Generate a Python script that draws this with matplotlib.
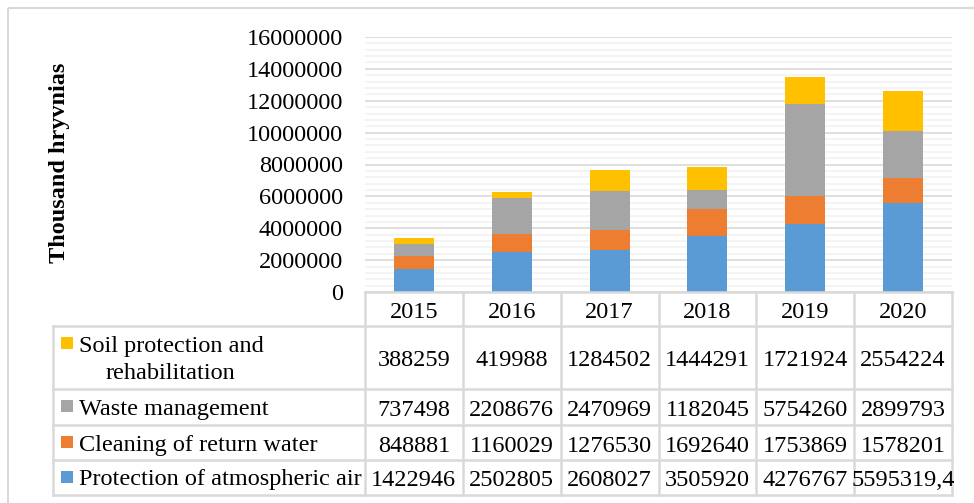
import matplotlib
matplotlib.use("Agg")
import matplotlib.pyplot as plt
from matplotlib.patches import Rectangle
from matplotlib.ticker import MultipleLocator, FuncFormatter

plt.rcParams['font.family'] = ['Liberation Serif', 'DejaVu Serif']

# datos
years = ['2015', '2016', '2017', '2018', '2019', '2020']
air = [1422946, 2502805, 2608027, 3505920, 4276767, 5595319.4]
water = [848881, 1160029, 1276530, 1692640, 1753869, 1578201]
waste = [737498, 2208676, 2470969, 1182045, 5754260, 2899793]
soil = [388259, 419988, 1284502, 1444291, 1721924, 2554224]

series = [
    ('Protection of atmospheric air', air, '#5B9BD5'),
    ('Cleaning of return water', water, '#ED7D31'),
    ('Waste management', waste, '#A5A5A5'),
    ('Soil protection and\nrehabilitation', soil, '#FFC000'),
]

FS = 17.5
W, H = 974, 503
fig = plt.figure(figsize=(W / 100, H / 100), dpi=100)

# area de la grafica en pixeles
x0, x1 = 365, 952
y_top, y_axis = 37, 292
ax = fig.add_axes([x0 / W, 1 - y_axis / H, (x1 - x0) / W, (y_axis - y_top) / H])

bottom = [0] * len(years)
for nombre, vals, color in series:
    ax.bar(range(len(years)), vals, bottom=bottom, color=color, width=0.41, zorder=3)
    bottom = [b + v for b, v in zip(bottom, vals)]

ax.set_xlim(-0.5, len(years) - 0.5)
ax.set_ylim(0, 16000000)
ax.yaxis.set_major_locator(MultipleLocator(2000000))
ax.yaxis.set_minor_locator(MultipleLocator(400000))
ax.yaxis.set_major_formatter(FuncFormatter(lambda v, p: '%d' % v))
ax.grid(axis='y', which='major', color='#D9D9D9', linewidth=1.2, zorder=0)
ax.grid(axis='y', which='minor', color='#F2F2F2', linewidth=1.2, zorder=0)
ax.set_xticks([])
ax.tick_params(axis='y', which='both', length=0, pad=16, labelsize=FS)
for s in ['top', 'right', 'left', 'bottom']:
    ax.spines[s].set_visible(False)
ax.set_axisbelow(True)

fig.text(60 / W, 1 - 163 / H, 'Thousand hryvnias', rotation=90, fontsize=FS,
         fontweight='bold', ha='center', va='center')

# tabla de datos debajo
tab = fig.add_axes([0, 0, 1, 1])
tab.set_xlim(0, W)
tab.set_ylim(H, 0)
tab.axis('off')
tab.patch.set_alpha(0)

# marco exterior
tab.add_patch(Rectangle((8, 8), 1100, 1100, fill=False, edgecolor='#D9D9D9', linewidth=1.5))

linea = dict(color='#D9D9D9', linewidth=1.8)
colw = (x1 - x0) / len(years)
t_left = 53
row_y = [326, 389, 425, 460, 495]   # limites de filas (debajo del encabezado)

# lineas horizontales
tab.plot([x0, x1], [y_axis, y_axis], **linea)
for y in row_y:
    tab.plot([t_left, x1], [y, y], **linea)
# lineas verticales
tab.plot([t_left, t_left], [row_y[0], row_y[-1]], **linea)
for i in range(len(years) + 1):
    xx = x0 + i * colw
    tab.plot([xx, xx], [y_axis, row_y[-1]], **linea)

# encabezado de años
for i, yr in enumerate(years):
    tab.text(x0 + (i + 0.5) * colw, (y_axis + row_y[0]) / 2 + 1, yr,
             ha='center', va='center_baseline', fontsize=FS)


def fmt(v):
    if float(v).is_integer():
        return str(int(v))
    return str(v).replace('.', ',')


# filas: de arriba hacia abajo
for r, (nombre, vals, color) in enumerate(reversed(series)):
    ya, yb = row_y[r], row_y[r + 1]
    yc = (ya + yb) / 2
    partes = nombre.split('\n')
    if len(partes) > 1:
        ysq = ya + 18
        tab.text(79, ysq, partes[0], ha='left', va='center_baseline', fontsize=FS)
        tab.text(106, ysq + 27, partes[1], ha='left', va='center_baseline', fontsize=FS)
    else:
        ysq = yc
        tab.text(79, ysq, nombre, ha='left', va='center_baseline', fontsize=FS)
    tab.add_patch(Rectangle((61, ysq - 7), 12, 12, facecolor=color, edgecolor='none'))
    for i, v in enumerate(vals):
        tab.text(x0 + (i + 0.5) * colw, yc + 1, fmt(v), ha='center', va='center_baseline', fontsize=FS)

fig.savefig('out.png', dpi=100)
